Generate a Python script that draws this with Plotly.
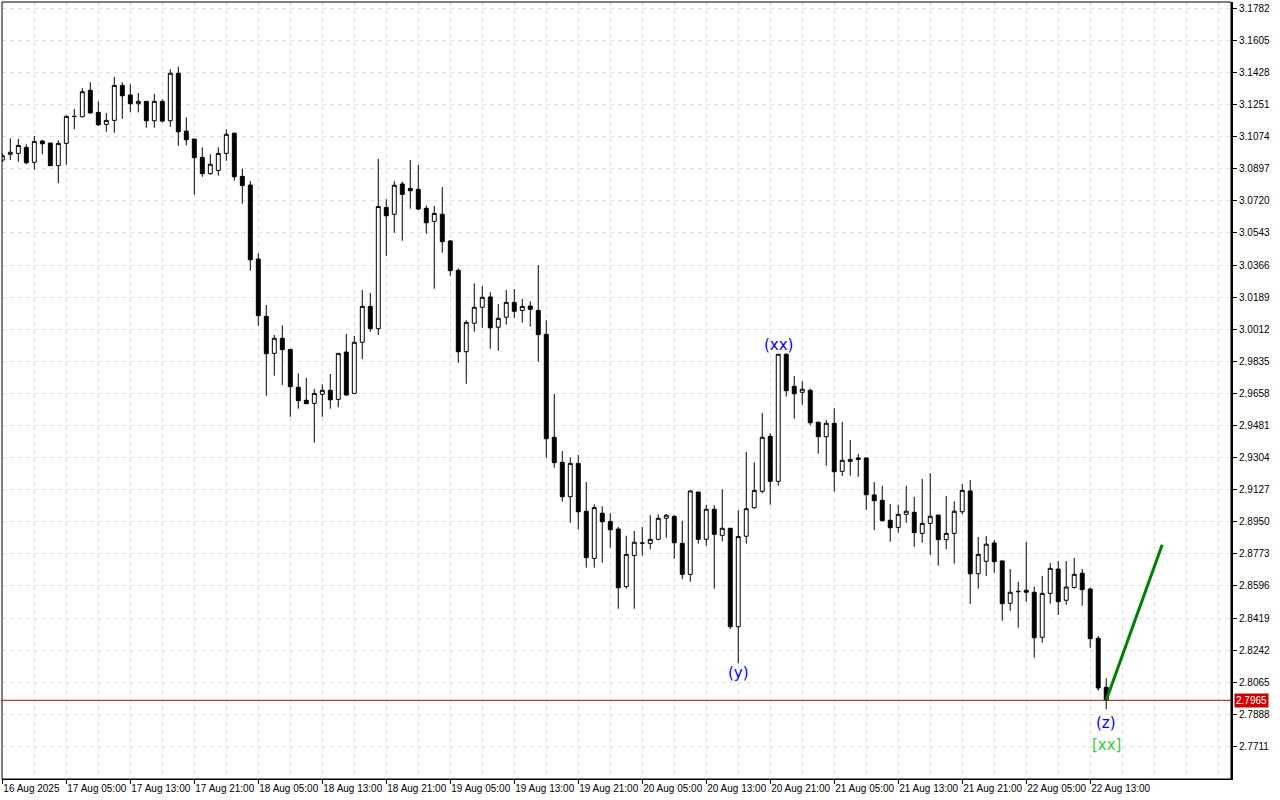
import plotly.graph_objects as go
import pandas as pd

# ---------------- data ----------------
start_time = "2025-08-16 21:00"

opens = [3.0945, 3.0977, 3.0982, 3.1015, 3.0933, 3.1050, 3.1039, 3.0914, 3.1037, 3.1185,
         3.1184, 3.1330, 3.1208, 3.1142, 3.1164, 3.1357, 3.1304, 3.1256, 3.1269, 3.1162,
         3.1269, 3.1162, 3.1424, 3.1105, 3.1061, 3.0960, 3.0870, 3.0888, 3.0982, 3.1093,
         3.0855, 3.0807, 3.0399, 3.0083, 2.9879, 2.9962, 2.9901, 2.9692, 2.9620, 2.9603,
         2.9653, 2.9675, 2.9625, 2.9886, 2.9658, 2.9940, 3.0138, 3.0015, 3.0684, 3.0646,
         3.0813, 3.0789, 3.0784, 3.0679, 3.0607, 3.0646, 3.0499, 3.0337, 2.9888, 3.0045,
         3.0133, 3.0190, 3.0023, 3.0078, 3.0160, 3.0116, 3.0140, 3.0116, 2.9984, 2.9416,
         2.9278, 2.9088, 2.9272, 2.9008, 2.8748, 2.8997, 2.8952, 2.8910, 2.8592, 2.8763,
         2.8832, 2.8831, 2.8853, 2.8969, 2.8980, 2.8831, 2.8660, 2.9114, 2.8853, 2.9019,
         2.8875, 2.8914, 2.8371, 2.8870, 2.9027, 2.9118, 2.9421, 2.9173, 2.9874, 2.9697,
         2.9664, 2.9675, 2.9499, 2.9419, 2.9493, 2.9228, 2.9283, 2.9302, 2.9302, 2.9098,
         2.9068, 2.8958, 2.8919, 2.8991, 2.9002, 2.8886, 2.8941, 2.8987, 2.8851, 2.8886,
         2.9005, 2.9120, 2.8663, 2.8732, 2.8833, 2.8734, 2.8500, 2.8564, 2.8572, 2.8561,
         2.8313, 2.8555, 2.8689, 2.8517, 2.8588, 2.8666, 2.8579, 2.8307, 2.8037]

highs = [3.0984, 3.1065, 3.1061, 3.1032, 3.1078, 3.1056, 3.1039, 3.1054, 3.1192, 3.1227,
         3.1342, 3.1374, 3.1269, 3.1205, 3.1403, 3.1374, 3.1363, 3.1315, 3.1269, 3.1309,
         3.1280, 3.1446, 3.1460, 3.1181, 3.1061, 3.1015, 3.0977, 3.1015, 3.1115, 3.1098,
         3.0897, 3.0829, 3.0431, 3.0146, 2.9980, 3.0034, 2.9901, 2.9769, 2.9743, 2.9682,
         2.9708, 2.9765, 2.9879, 2.9986, 2.9975, 3.0228, 3.0212, 3.0951, 3.0729, 3.0829,
         3.0826, 3.0945, 3.0918, 3.0695, 3.0692, 3.0796, 3.0504, 3.0348, 3.0061, 3.0265,
         3.0250, 3.0216, 3.0151, 3.0228, 3.0234, 3.0179, 3.0166, 3.0366, 3.0061, 2.9655,
         2.9340, 2.9305, 2.9318, 2.9169, 2.9046, 2.9035, 2.8997, 2.8921, 2.8873, 2.8899,
         2.8921, 2.8986, 2.8991, 2.8994, 2.8986, 2.8956, 2.9125, 2.9114, 2.9044, 2.9041,
         2.9129, 2.8914, 2.9013, 2.9335, 2.9278, 2.9550, 2.9438, 2.9874, 2.9879, 2.9754,
         2.9726, 2.9684, 2.9502, 2.9511, 2.9576, 2.9500, 2.9401, 2.9325, 2.9302, 2.9169,
         2.9149, 2.9048, 2.9044, 2.9149, 2.9088, 2.9186, 2.9218, 2.8987, 2.9092, 2.9064,
         2.9158, 2.9180, 2.8866, 2.8871, 2.8849, 2.8734, 2.8689, 2.8618, 2.8838, 2.8592,
         2.8651, 2.8722, 2.8734, 2.8734, 2.8750, 2.8689, 2.8586, 2.8320, 2.8087]

lows = [3.0934, 3.0945, 3.0936, 3.0922, 3.0892, 3.0977, 3.0914, 3.0817, 3.0919, 3.1116,
        3.1181, 3.1201, 3.1133, 3.1101, 3.1096, 3.1173, 3.1208, 3.1208, 3.1123, 3.1123,
        3.1153, 3.1129, 3.1024, 3.1026, 3.0754, 3.0853, 3.0864, 3.0859, 3.0941, 3.0831,
        3.0704, 3.0335, 3.0031, 2.9645, 2.9756, 2.9704, 2.9529, 2.9574, 2.9601, 2.9386,
        2.9529, 2.9574, 2.9581, 2.9645, 2.9658, 2.9846, 2.9998, 2.9980, 3.0416, 3.0544,
        3.0500, 3.0677, 3.0670, 3.0539, 3.0235, 3.0434, 3.0307, 2.9827, 2.9711, 2.9998,
        3.0020, 2.9904, 2.9893, 3.0037, 3.0075, 3.0048, 3.0026, 2.9833, 2.9303, 2.9248,
        2.9061, 2.8945, 2.8908, 2.8697, 2.8697, 2.8724, 2.8807, 2.8470, 2.8581, 2.8470,
        2.8763, 2.8798, 2.8848, 2.8862, 2.8746, 2.8633, 2.8619, 2.8829, 2.8818, 2.8581,
        2.8842, 2.8357, 2.8169, 2.8829, 2.9022, 2.9107, 2.9044, 2.9149, 2.9640, 2.9518,
        2.9596, 2.9482, 2.9325, 2.9259, 2.9116, 2.9202, 2.9204, 2.9198, 2.9016, 2.8904,
        2.8951, 2.8840, 2.8890, 2.8945, 2.8812, 2.8834, 2.8767, 2.8708, 2.8798, 2.8719,
        2.8991, 2.8496, 2.8581, 2.8651, 2.8669, 2.8404, 2.8459, 2.8366, 2.8509, 2.8200,
        2.8283, 2.8498, 2.8436, 2.8492, 2.8581, 2.8487, 2.8255, 2.8018, 2.7915]

closes = [3.0969, 3.0988, 3.1026, 3.0930, 3.1048, 3.1035, 3.0914, 3.1037, 3.1186, 3.1186,
          3.1322, 3.1205, 3.1140, 3.1164, 3.1357, 3.1300, 3.1256, 3.1269, 3.1162, 3.1269,
          3.1160, 3.1424, 3.1101, 3.1057, 3.0958, 3.0870, 3.0922, 3.0982, 3.1087, 3.0853,
          3.0804, 3.0395, 3.0087, 2.9877, 2.9962, 2.9899, 2.9695, 2.9618, 2.9601, 2.9658,
          2.9675, 2.9623, 2.9879, 2.9649, 2.9940, 3.0138, 3.0015, 3.0689, 3.0638, 3.0806,
          3.0756, 3.0776, 3.0675, 3.0599, 3.0651, 3.0495, 3.0335, 2.9888, 3.0050, 3.0133,
          3.0188, 3.0020, 3.0072, 3.0160, 3.0111, 3.0138, 3.0122, 2.9982, 2.9408, 2.9276,
          2.9088, 2.9272, 2.9005, 2.8752, 2.9028, 2.8950, 2.8906, 2.8586, 2.8770, 2.8837,
          2.8833, 2.8853, 2.8969, 2.8986, 2.8834, 2.8660, 2.9120, 2.8853, 2.9019, 2.8881,
          2.8914, 2.8371, 2.8868, 2.9022, 2.9123, 2.9416, 2.9173, 2.9874, 2.9673, 2.9656,
          2.9681, 2.9496, 2.9419, 2.9493, 2.9226, 2.9289, 2.9294, 2.9294, 2.9099, 2.9066,
          2.8956, 2.8917, 2.8991, 2.9008, 2.8890, 2.8941, 2.8980, 2.8851, 2.8886, 2.9008,
          2.9123, 2.8663, 2.8770, 2.8826, 2.8730, 2.8498, 2.8561, 2.8566, 2.8561, 2.8310,
          2.8555, 2.8693, 2.8509, 2.8590, 2.8660, 2.8575, 2.8305, 2.8033, 2.7965]

x_tick_labels = ["16 Aug 2025", "17 Aug 05:00", "17 Aug 13:00", "17 Aug 21:00",
                 "18 Aug 05:00", "18 Aug 13:00", "18 Aug 21:00", "19 Aug 05:00",
                 "19 Aug 13:00", "19 Aug 21:00", "20 Aug 05:00", "20 Aug 13:00",
                 "20 Aug 21:00", "21 Aug 05:00", "21 Aug 13:00", "21 Aug 21:00",
                 "22 Aug 05:00", "22 Aug 13:00"]

price_ticks = [3.1782, 3.1605, 3.1428, 3.1251, 3.1074, 3.0897, 3.0720, 3.0543,
               3.0366, 3.0189, 3.0012, 2.9835, 2.9658, 2.9481, 2.9304, 2.9127,
               2.8950, 2.8773, 2.8596, 2.8419, 2.8242, 2.8065, 2.7888, 2.7711]

current_price = 2.7965

# projected wave (green line): hours after last candle, target price
proj_hours = [0, 7]
proj_prices = [2.7965, 2.8823]

# wave labels: text, candle index, price position, colour
wave_texts = ["(xx)", "(y)", "(z)", "[xx]"]
wave_index = [97, 92, 138, 138]
wave_prices = [2.9925, 2.8116, 2.7840, 2.7719]
wave_colors = ["#0000ff", "#0000ff", "#0000ff", "#32cd32"]

# ---------------- figure ----------------
times = pd.date_range(start_time, periods=len(opens), freq="h")
hour = pd.Timedelta(hours=1)

fig = go.Figure()

fig.add_trace(go.Candlestick(
    x=times, open=opens, high=highs, low=lows, close=closes,
    increasing=dict(fillcolor="#ffffff", line=dict(color="#000000", width=1)),
    decreasing=dict(fillcolor="#000000", line=dict(color="#000000", width=1)),
    whiskerwidth=0, showlegend=False, hoverinfo="skip",
))

fig.add_trace(go.Scatter(
    x=[times[-1] + h * hour for h in proj_hours], y=proj_prices,
    mode="lines", line=dict(color="#008000", width=3),
    showlegend=False, hoverinfo="skip",
))

for t, i, p, c in zip(wave_texts, wave_index, wave_prices, wave_colors):
    fig.add_annotation(x=times[i], y=p, text=t, showarrow=False,
                       xanchor="center", yanchor="middle",
                       font=dict(family="DejaVu Sans", size=15, color=c))

# current price line + label
fig.add_shape(type="line", xref="paper", x0=0, x1=1, yref="y",
              y0=current_price, y1=current_price,
              line=dict(color="#a01010", width=1))
fig.add_annotation(xref="paper", x=1, xanchor="left", xshift=3,
                   yref="y", y=current_price, yanchor="middle",
                   text=f"{current_price:.4f}", showarrow=False,
                   bgcolor="#cc0000", borderpad=1,
                   font=dict(family="Liberation Sans", size=10, color="#ffffff"))

# frame
fig.add_shape(type="rect", xref="paper", yref="paper", x0=0, x1=1, y0=0, y1=1,
              line=dict(color="#000000", width=1), layer="above")

grid_col = "#e0e0e0"
label_times = list(times[::8])
minor_times = list(pd.date_range(times[0], periods=40, freq="4h"))

fig.update_layout(
    width=1280, height=800,
    margin=dict(l=2, r=49, t=2, b=21, autoexpand=False),
    paper_bgcolor="#ffffff", plot_bgcolor="#ffffff",
    font=dict(family="Liberation Sans", size=10, color="#000000"),
    xaxis=dict(
        type="date", automargin=False,
        range=[times[0] - 0.04 * hour, times[0] + 153.6 * hour],
        rangeslider=dict(visible=False),
        tickmode="array", tickvals=label_times, ticktext=x_tick_labels,
        tickangle=0,
        ticks="outside", ticklen=4, tickcolor="#000000",
        ticklabelposition="outside right",
        showline=True, linecolor="#000000", linewidth=1,
        showgrid=True, gridcolor=grid_col, griddash="4px,4px", gridwidth=1,
        minor=dict(tickmode="array", tickvals=minor_times, showgrid=True,
                   gridcolor=grid_col, griddash="4px,4px", gridwidth=1, ticks=""),
        zeroline=False, fixedrange=True,
        tickfont=dict(family="Liberation Sans", size=10, color="#000000"),
    ),
    yaxis=dict(
        side="right", automargin=False,
        range=[2.7531, 3.1817],
        tickmode="array", tickvals=price_ticks,
        ticktext=[f"{v:.4f}" for v in price_ticks],
        ticks="outside", ticklen=4, tickcolor="#000000",
        showline=True, linecolor="#000000", linewidth=2,
        showgrid=True, gridcolor=grid_col, griddash="4px,4px", gridwidth=1,
        zeroline=False, fixedrange=True,
        tickfont=dict(family="Liberation Sans", size=10, color="#000000"),
    ),
)

fig.write_html(
    "out.html",
    config={"displayModeBar": False},
    post_script="document.body.style.margin='0px';document.body.style.padding='0px';"
                "document.body.style.overflow='hidden';",
)
